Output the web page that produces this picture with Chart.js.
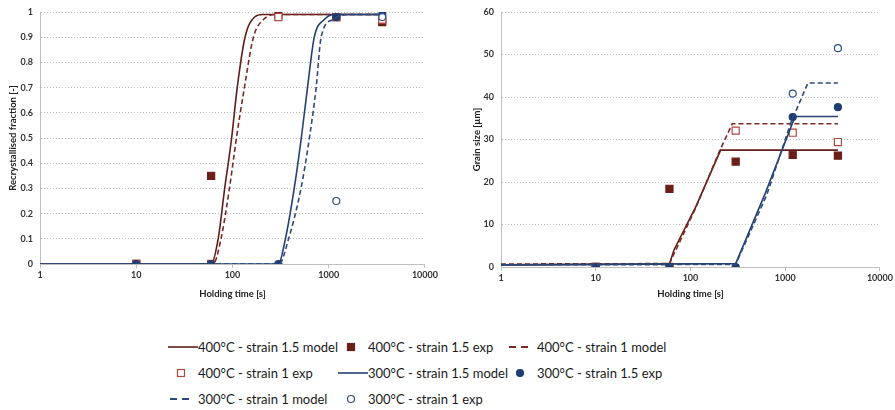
<!DOCTYPE html>
<html lang="en">
<head>
<meta charset="UTF-8">
<title>Recrystallised fraction and grain size</title>
<script src="https://cdn.jsdelivr.net/npm/chart.js"></script>
<style>
  body { margin: 0; background: #fff; width: 895px; height: 410px; position: relative; overflow: hidden; font-family: Lato, "Liberation Sans", sans-serif; }
  .box { position: absolute; top: 0; height: 300px; }
  #leftBox { left: 0; width: 440px; }
  #rightBox { left: 450px; width: 445px; }
  .item { position: absolute; font-size: 13px; color: #1a1a1a; white-space: nowrap; line-height: 16px; height: 16px; }
  .item svg { position: absolute; left: 0; top: 0; }
  .item span { position: absolute; left: 30px; top: 0; }
</style>
</head>
<body>
<div class="box" id="leftBox"><canvas id="fracChart"></canvas></div>
<div class="box" id="rightBox"><canvas id="sizeChart"></canvas></div>
<div id="legend"></div>

<script>
// holding times of the experiments [s]
const expTimes = [10, 60, 300, 1200, 3600];
const xTicks = [1, 10, 100, 1000, 10000];

// recrystallised fraction - experiments
const frac400s15Exp = [0, 0.35, 0.99, 0.98, 0.96];
const frac400s1Exp = [0, 0, 0.98, 0.98, 0.97];
const frac300s15Exp = [0, 0, 0, 0.98, 0.99];
const frac300s1Exp = [null, null, null, 0.25, 0.98];

// recrystallised fraction - model curves (time, value)
const frac400s15ModelT = [1, 60, 71, 83, 98, 112, 135, 170, 205, 3600];
const frac400s15Model = [0, 0, 0.1, 0.3, 0.5, 0.7, 0.9, 0.98, 0.99, 0.99];
const frac400s1ModelT = [1, 63, 76, 93, 110, 133, 165, 210, 283, 3600];
const frac400s1Model = [0, 0, 0.1, 0.3, 0.5, 0.7, 0.9, 0.97, 0.99, 0.99];
const frac300s15ModelT = [1, 300, 355, 438, 519, 602, 708, 900, 1140, 3600];
const frac300s15Model = [0, 0, 0.1, 0.3, 0.5, 0.7, 0.9, 0.97, 0.99, 0.99];
const frac300s1ModelT = [1, 305, 383, 515, 630, 740, 834, 1100, 1630, 3600];
const frac300s1Model = [0, 0, 0.1, 0.3, 0.5, 0.7, 0.9, 0.97, 0.99, 0.99];

// grain size [um] - experiments
const size400s15Exp = [0, 18.4, 24.8, 26.4, 26.2];
const size400s1Exp = [0, 0, 32.1, 31.6, 29.4];
const size300s15Exp = [0, 0, 0, 35.3, 37.6];
const size300s1Exp = [null, null, null, 40.8, 51.5];

// grain size - model curves (time, value)
const size400s15ModelT = [1, 60, 67, 114, 208, 3600];
const size400s15Model = [0.5, 0.7, 4, 14.2, 27.5, 27.5];
const size400s1ModelT = [1, 60, 114, 200, 276, 3600];
const size400s1Model = [0.7, 0.8, 14, 27, 33.7, 33.7];
const size300s15ModelT = [1, 300, 620, 1270, 3600];
const size300s15Model = [0.5, 0.8, 17.5, 35.4, 35.4];
const size300s1ModelT = [1, 300, 640, 1150, 1737, 3600];
const size300s1Model = [0.5, 0.6, 17, 34, 43.3, 43.3];

const labels = [
  '400°C - strain 1.5 model', '400°C - strain 1.5 exp', '400°C - strain 1 model',
  '400°C - strain 1 exp', '300°C - strain 1.5 model', '300°C - strain 1.5 exp',
  '300°C - strain 1 model', '300°C - strain 1 exp'
];

const red = '#5e1f1a', redDash = '#7a2a22', redFill = '#6b1f17', redOpen = '#b5473f';
const blue = '#23406e', blueDash = '#2b4a80', blueFill = '#1f3d73', blueOpen = '#2c4f8c';

const pts = (t, v) => t.map((x, i) => ({ x: x, y: v[i] }));

function modelSet(label, t, v, color, dashed, smooth) {
  return {
    label: label, data: pts(t, v), borderColor: color, borderWidth: 1.6,
    borderDash: dashed ? [5, 3] : [], pointRadius: 0, fill: false,
    cubicInterpolationMode: smooth ? 'monotone' : 'default', tension: 0
  };
}
function expSet(label, v, style, fillCol, lineCol) {
  return {
    label: label, data: pts(expTimes, v), showLine: false,
    pointStyle: style, pointRadius: style === 'rect' ? 5 : 3.5,
    pointBackgroundColor: fillCol, pointBorderColor: lineCol, pointBorderWidth: 1.2
  };
}

function buildSets(m, e, smooth) {
  const sets = [
    modelSet(labels[0], m[0][0], m[0][1], red, false, smooth),
    expSet(labels[1], e[0], 'rect', redFill, redFill),
    modelSet(labels[2], m[1][0], m[1][1], redDash, true, smooth),
    expSet(labels[3], e[1], 'rect', '#ffffff', redOpen),
    modelSet(labels[4], m[2][0], m[2][1], blue, false, smooth),
    expSet(labels[5], e[2], 'circle', blueFill, blueFill),
    modelSet(labels[6], m[3][0], m[3][1], blueDash, true, smooth),
    expSet(labels[7], e[3], 'circle', '#ffffff', blueOpen)
  ];
  // later series drawn on top, like the original
  sets.forEach((s, i) => { s.order = 10 - i; });
  return sets;
}

const tickFont = { family: 'Lato', size: 9, weight: 'bold' };
const titleFont = { family: 'Lato', size: 9.5, weight: 'bold' };

function makeOptions(yMax, yStep, yTitle, yWidth, xHeight, padRight, titlePad) {
  return {
    responsive: false, animation: false,
    layout: { padding: { top: 12, right: padRight, left: 0, bottom: 0 } },
    plugins: { legend: { display: false }, tooltip: { enabled: false } },
    scales: {
      x: {
        type: 'logarithmic', min: 1, max: 10000,
        afterBuildTicks: ax => { ax.ticks = xTicks.map(v => ({ value: v })); },
        afterFit: s => { s.height = xHeight; },
        ticks: { font: tickFont, color: '#333', padding: 2, maxRotation: 0, autoSkip: false,
                 callback: v => String(v) },
        grid: { drawOnChartArea: false, tickLength: 4, color: '#bfbfbf' },
        border: { color: '#bfbfbf' },
        title: { display: true, text: 'Holding time [s]', font: titleFont, color: '#222', padding: { top: 2, bottom: 0 } }
      },
      y: {
        min: 0, max: yMax,
        afterFit: s => { s.width = yWidth; },
        ticks: { stepSize: yStep, font: tickFont, color: '#333', padding: 4,
                 callback: v => String(Math.round(v * 10) / 10) },
        grid: { color: '#bdbdbd', tickLength: 3, tickColor: '#ffffff' },
        // in Chart.js v4 border.dash styles the grid lines (dotted)
        border: { color: '#bfbfbf', dash: [1, 2] },
        title: { display: true, text: yTitle, font: titleFont, color: '#222', padding: { top: titlePad, bottom: 0 } }
      }
    }
  };
}

const fracCanvas = document.getElementById('fracChart');
fracCanvas.width = 440; fracCanvas.height = 300;
const sizeCanvas = document.getElementById('sizeChart');
sizeCanvas.width = 445; sizeCanvas.height = 300;

new Chart(fracCanvas, {
  type: 'line',
  data: { datasets: buildSets(
    [[frac400s15ModelT, frac400s15Model], [frac400s1ModelT, frac400s1Model],
     [frac300s15ModelT, frac300s15Model], [frac300s1ModelT, frac300s1Model]],
    [frac400s15Exp, frac400s1Exp, frac300s15Exp, frac300s1Exp], true) },
  options: makeOptions(1, 0.1, 'Recrystallised fraction [-]', 40, 36, 14, 7)
});

new Chart(sizeCanvas, {
  type: 'line',
  data: { datasets: buildSets(
    [[size400s15ModelT, size400s15Model], [size400s1ModelT, size400s1Model],
     [size300s15ModelT, size300s15Model], [size300s1ModelT, size300s1Model]],
    [size400s15Exp, size400s1Exp, size300s15Exp, size300s1Exp], false) },
  options: makeOptions(60, 10, 'Grain size [µm]', 51, 33, 13, 21)
});

// legend below the two charts
const legendPos = [
  [198, 347], [368, 347], [537, 347],
  [198, 373], [368, 373], [537, 373],
  [198, 399], [368, 399]
];
const legendSym = [
  { kind: 'line', color: red }, { kind: 'rect', fill: redFill, stroke: redFill },
  { kind: 'dash', color: redDash }, { kind: 'rect', fill: '#ffffff', stroke: redOpen },
  { kind: 'line', color: blue }, { kind: 'circle', fill: blueFill, stroke: blueFill },
  { kind: 'dash', color: blueDash }, { kind: 'circle', fill: '#ffffff', stroke: blueOpen }
];
const legend = document.getElementById('legend');
labels.forEach((text, i) => {
  const [x, y] = legendPos[i];
  const s = legendSym[i];
  let svg = '';
  if (s.kind === 'line') svg = `<line x1="0" y1="8" x2="30" y2="8" stroke="${s.color}" stroke-width="1.6"/>`;
  if (s.kind === 'dash') svg = `<line x1="2" y1="8" x2="22" y2="8" stroke="${s.color}" stroke-width="1.8" stroke-dasharray="7 5"/>`;
  if (s.kind === 'rect') svg = `<rect x="9.5" y="4.5" width="7" height="7" fill="${s.fill}" stroke="${s.stroke}" stroke-width="1.2"/>`;
  if (s.kind === 'circle') svg = `<circle cx="13" cy="8" r="3.5" fill="${s.fill}" stroke="${s.stroke}" stroke-width="1.2"/>`;
  const div = document.createElement('div');
  div.className = 'item';
  div.style.left = (x - 30) + 'px';
  div.style.top = (y - 8) + 'px';
  div.innerHTML = `<svg width="30" height="16">${svg}</svg><span>${text}</span>`;
  legend.appendChild(div);
});
</script>
</body>
</html>
